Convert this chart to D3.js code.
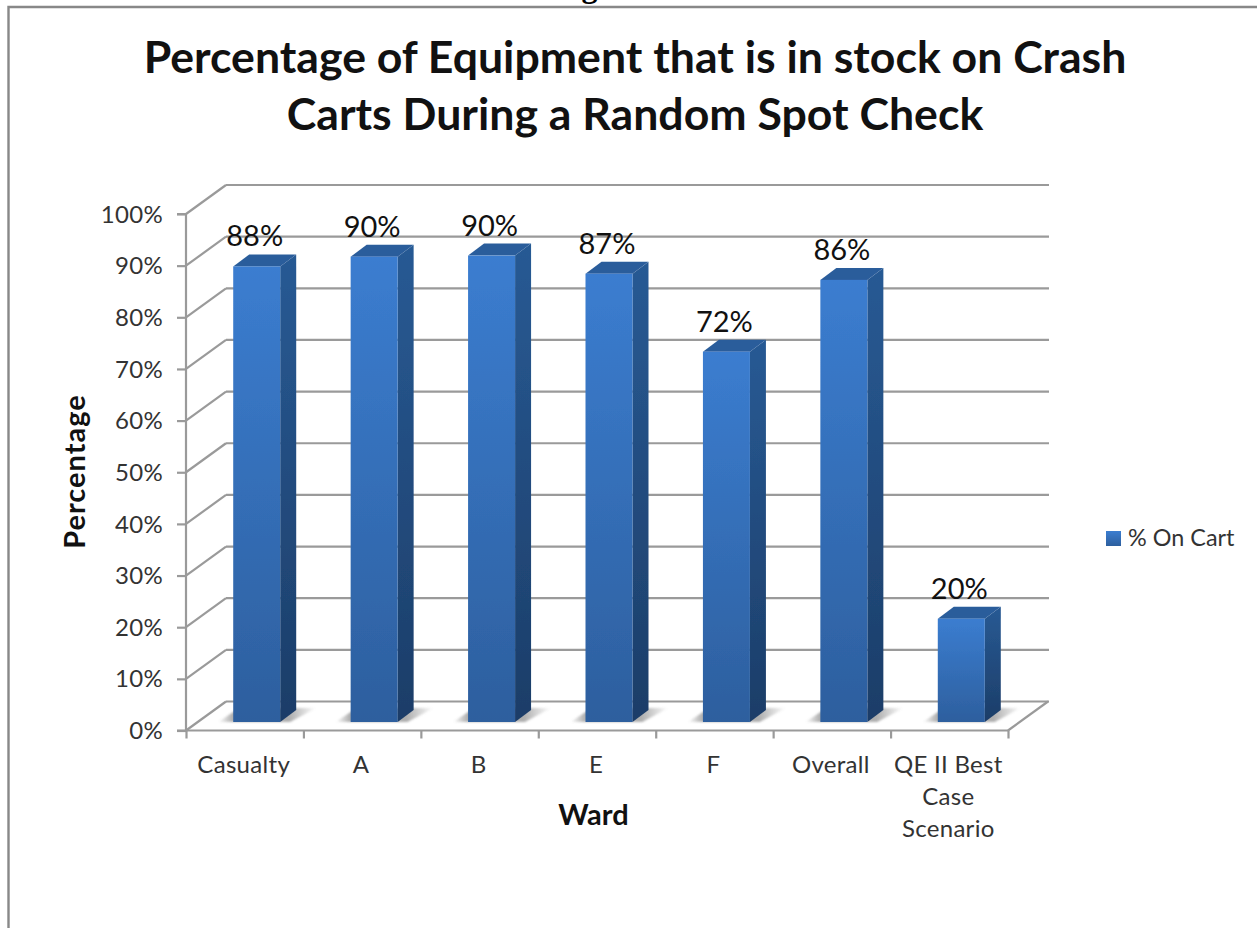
<!DOCTYPE html>
<html><head><meta charset="utf-8">
<script src="https://cdnjs.cloudflare.com/ajax/libs/d3/7.8.5/d3.min.js"></script>
<style>html,body{margin:0;padding:0;background:#fff}svg{display:block}text{font-family:Lato,"Open Sans",sans-serif}</style>
</head><body><div id="c"></div>
<script>
const categories=[["Casualty"],["A"],["B"],["E"],["F"],["Overall"],["QE II Best","Case","Scenario"]];
const values=[88.2,90.1,90.3,86.8,71.7,85.6,20];
const ticks=[0,10,20,30,40,50,60,70,80,90,100];
const titleLines=["Percentage of Equipment that is in stock on Crash","Carts During a Random Spot Check"];
const seriesName="% On Cart", xTitle="Ward", yTitle="Percentage";

const W=1257,H=928;
const svg=d3.select("#c").append("svg").attr("width",W).attr("height",H);
const x=d3.scaleBand().domain(d3.range(categories.length)).range([186,1008]);
const y=d3.scaleLinear().domain([0,100]).range([730.5,214]);
const dx=40,dy=-29, bdx=16,bdy=-12, barW=47;
const grey="#9a9a9a";
const defs=svg.append("defs");
function grad(id,a,b){const g=defs.append("linearGradient").attr("id",id).attr("x1",0).attr("y1",0).attr("x2",0).attr("y2",1);
 g.append("stop").attr("offset",0).attr("stop-color",a);g.append("stop").attr("offset",1).attr("stop-color",b);}
grad("front","#3b7dd0","#2d5f9e");grad("side","#285a94","#1c3d68");
grad("leg","#3b7dd0","#2d5f9e");
const sh=defs.append("linearGradient").attr("id","shadow").attr("x1",0).attr("y1",0).attr("x2",1).attr("y2",0);
sh.append("stop").attr("offset",0).attr("stop-color","#777").attr("stop-opacity",0);
sh.append("stop").attr("offset",.15).attr("stop-color","#777").attr("stop-opacity",.6);
sh.append("stop").attr("offset",.72).attr("stop-color","#777").attr("stop-opacity",.6);
sh.append("stop").attr("offset",1).attr("stop-color","#777").attr("stop-opacity",0);
defs.append("filter").attr("id","blur").append("feGaussianBlur").attr("stdDeviation",1.2);
const soft=defs.append("filter").attr("id","soft");soft.append("feGaussianBlur").attr("stdDeviation",.35);

// outer frame
svg.append("path").attr("d",`M8.5,${H} V7 H${W}`).attr("fill","none").attr("stroke","#888").attr("stroke-width",2.4);
// clipped heading descender above the frame
svg.append("text").attr("x",589.5).attr("y",-3.5).attr("text-anchor","middle").attr("font-size",32).attr("font-weight",700).style("font-family","Liberation Serif").text("g");

const root=svg.append("g").attr("filter","url(#soft)");
// walls
const walls=root.append("g").attr("fill","none").attr("stroke",grey).attr("stroke-width",2.2);
walls.selectAll("line.back").data(ticks).join("line").attr("class","back")
 .attr("x1",x.range()[0]+dx).attr("x2",x.range()[1]+dx+1).attr("y1",d=>y(d)+dy).attr("y2",d=>y(d)+dy);
walls.selectAll("line.side").data(ticks).join("line").attr("class","side")
 .attr("x1",x.range()[0]).attr("x2",x.range()[0]+dx).attr("y1",d=>y(d)).attr("y2",d=>y(d)+dy);
walls.append("line").attr("x1",x.range()[1]).attr("x2",x.range()[1]+dx).attr("y1",y(0)).attr("y2",y(0)+dy);
// axes
const yAxis=d3.axisLeft(y).tickValues(ticks).tickSize(9).tickFormat(d=>d+"%");
const yg=root.append("g").attr("transform","translate(186,0)").call(yAxis);
const xAxis=d3.axisBottom(d3.scaleLinear().domain([0,categories.length]).range(x.range())).tickValues(d3.range(categories.length+1)).tickSize(8).tickFormat("");
const xg=root.append("g").attr("transform",`translate(0,${y(0)})`).call(xAxis);
[yg,xg].forEach(g=>{g.selectAll("path,line").attr("stroke",grey).attr("stroke-width",2.2);});
yg.selectAll("path").attr("d",`M-9,${y(100)}H0V${y(0)}H-9`).attr("fill","none");
xg.select("path").attr("d",`M186,0H1008`).attr("fill","none");
yg.selectAll("text").remove();
svg.append("g").attr("font-size",24).attr("fill","#333").style("letter-spacing","0.3px").selectAll("text").data(ticks).join("text")
 .attr("x",163).attr("y",d=>y(d)).attr("dy","0.36em").attr("text-anchor","end").text(d=>d+"%");

// bars
const barBase=()=>y(0)-8.5;
const bx=i=>x(i)+x.bandwidth()/2-barW/2+12;
const h=d=>y(0)-y(d);
const bars=root.append("g").selectAll("g").data(values).join("g");
bars.append("path").attr("fill","url(#shadow)").attr("filter","url(#blur)")
 .attr("d",(d,i)=>`M${bx(i)-15},${barBase()} L${bx(i)+6},${barBase()-14} H${bx(i)+barW+bdx+20} L${bx(i)+barW+10},${barBase()} Z`);
bars.append("path").attr("fill","url(#side)")
 .attr("d",(d,i)=>{const X=bx(i)+barW,T=barBase()-h(d);return `M${X},${T}L${X+bdx},${T+bdy}V${barBase()+bdy}L${X},${barBase()}Z`;});
bars.append("path").attr("fill","#2b5d9b")
 .attr("d",(d,i)=>{const X=bx(i),T=barBase()-h(d);return `M${X},${T}L${X+bdx},${T+bdy}H${X+barW+bdx}L${X+barW},${T}Z`;});
bars.append("rect").attr("x",(d,i)=>bx(i)).attr("y",d=>barBase()-h(d)).attr("width",barW).attr("height",d=>h(d)).attr("fill","url(#front)");

// texts
svg.append("g").selectAll("text").data(values).join("text").attr("x",(d,i)=>bx(i)+barW/2-2).attr("y",d=>barBase()-h(d)-20)
 .attr("text-anchor","middle").attr("font-size",29).attr("fill","#111").text(d=>Math.round(d)+"%");
const cat=svg.append("g").attr("font-size",24).attr("fill","#333").style("letter-spacing","0.3px");
categories.forEach((lines,i)=>lines.forEach((t,j)=>cat.append("text").attr("x",x(i)+x.bandwidth()/2-1).attr("y",773+j*32).attr("text-anchor","middle").text(t)));
const tg=svg.append("g").attr("font-size",44.6).attr("font-weight",700).attr("fill","#111");
titleLines.forEach((t,i)=>tg.append("text").attr("x",635).attr("y",73+i*57).attr("text-anchor","middle").text(t));
svg.append("text").attr("x",593.5).attr("y",825).attr("text-anchor","middle").attr("font-size",29).attr("font-weight",700).attr("fill","#111").text(xTitle);
svg.append("text").attr("transform","translate(85,471.5) rotate(-90)").attr("text-anchor","middle").attr("font-size",29).attr("font-weight",700).attr("fill","#111").style("letter-spacing","1px").text(yTitle);
// legend
svg.append("rect").attr("x",1106).attr("y",531).attr("width",15).attr("height",15).attr("fill","url(#leg)");
svg.append("text").attr("x",1128).attr("y",546).attr("font-size",23.4).attr("fill","#333").text(seriesName);
</script></body></html>
